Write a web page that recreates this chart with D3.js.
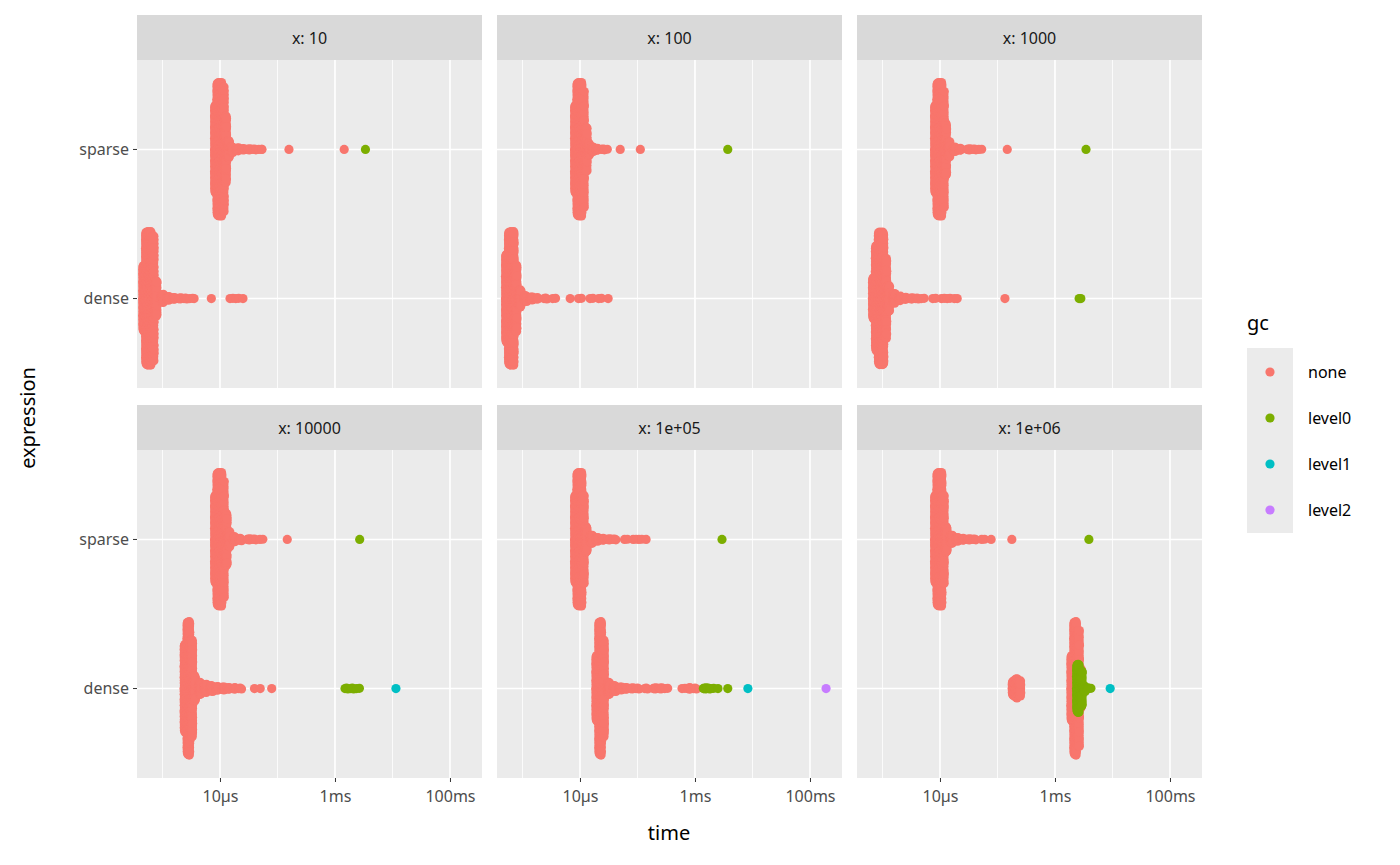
<!DOCTYPE html>
<html><head><meta charset="utf-8">
<script src="https://cdn.jsdelivr.net/npm/d3@7"></script>
<style>body{margin:0;background:#fff}text{font-family:"Noto Sans",sans-serif}</style>
</head><body><svg id="c" width="1400" height="865"></svg>
<script>
// bins: [log10 seconds, number of iterations, gc level index]
const panels = ['10','100','1000','10000','1e+05','1e+06'];
const exprs = ['sparse','dense'];
const gcLevels = ['none','level0','level1','level2'];
const gcColors = ['#F8766D','#7CAE00','#00BFC4','#C77CFF'];
const tickVals = [-5,-3,-1], tickLabels = ['10µs','1ms','100ms'];
const minorVals = [-6,-4,-2];

const sp10 = [[-5.07,200],[-5.03,300],[-4.99,300],[-4.95,280],[-4.91,150],[-4.86,40],[-4.8,15],[-4.7,8],[-4.6,5],[-4.5,4],[-4.4,3],[-4.3,2],[-4.27,1],[-3.8,1],[-2.84,1],[-2.47,1,1]];
const de10 = [[-6.32,150],[-6.27,300],[-6.22,300],[-6.17,280],[-6.12,80],[-6.0,20],[-5.9,10],[-5.8,6],[-5.7,4],[-5.6,3],[-5.5,2],[-5.45,1],[-5.15,1],[-4.8,2],[-4.7,2],[-4.6,1]];
const sp100 = [[-5.07,200],[-5.03,300],[-4.99,300],[-4.95,260],[-4.9,100],[-4.85,30],[-4.78,12],[-4.7,6],[-4.6,3],[-4.55,2],[-4.3,1],[-3.95,1],[-2.43,1,1]];
const de100 = [[-6.27,200],[-6.22,300],[-6.17,300],[-6.12,150],[-6.05,40],[-5.95,15],[-5.85,8],[-5.75,5],[-5.6,3],[-5.45,2],[-5.17,1],[-5.0,2],[-4.8,2],[-4.65,2],[-4.51,1]];
const sp1000 = [[-5.07,200],[-5.03,300],[-4.99,300],[-4.95,260],[-4.91,120],[-4.85,35],[-4.75,12],[-4.65,6],[-4.5,4],[-4.4,3],[-4.3,2],[-3.83,1],[-2.46,1,1]];
const de1000 = [[-6.15,80],[-6.1,200],[-6.05,250],[-6.0,250],[-5.95,150],[-5.9,50],[-5.8,20],[-5.7,10],[-5.6,6],[-5.5,4],[-5.4,3],[-5.3,2],[-5.1,2],[-4.95,2],[-4.85,2],[-4.75,1],[-4.7,1],[-3.87,1],[-2.58,1,1],[-2.55,1,1]];
const sp10000 = [[-5.07,200],[-5.03,300],[-4.99,300],[-4.95,260],[-4.9,120],[-4.85,35],[-4.75,14],[-4.65,7],[-4.5,4],[-4.4,3],[-4.28,2],[-3.83,1],[-2.57,1,1]];
const de10000 = [[-5.6,200],[-5.55,300],[-5.5,220],[-5.45,60],[-5.35,30],[-5.25,20],[-5.15,15],[-5.05,10],[-4.95,8],[-4.85,6],[-4.75,5],[-4.65,3],[-4.4,1],[-4.3,1],[-4.1,1],[-2.8,3,1],[-2.7,3,1],[-2.6,2,1],[-1.94,1,2]];
const sp1e5 = [[-5.07,200],[-5.03,300],[-4.99,300],[-4.95,200],[-4.9,60],[-4.8,20],[-4.7,10],[-4.6,6],[-4.5,4],[-4.4,3],[-4.2,2],[-4.05,2],[-3.95,2],[-3.85,1],[-2.53,1,1]];
const de1e5 = [[-4.7,150],[-4.65,300],[-4.6,220],[-4.5,30],[-4.4,15],[-4.3,8],[-4.2,6],[-4.1,4],[-4.0,3],[-3.85,3],[-3.7,4],[-3.6,4],[-3.5,2],[-3.2,2],[-3.1,5],[-3.0,3],[-2.83,4,1],[-2.77,3,1],[-2.7,2,1],[-2.6,1,1],[-2.43,1,1],[-2.08,1,2],[-0.72,1,3]];
const sp1e6 = [[-5.07,200],[-5.03,300],[-4.99,300],[-4.95,200],[-4.9,60],[-4.8,20],[-4.7,10],[-4.6,6],[-4.5,4],[-4.4,3],[-4.25,2],[-4.11,1],[-3.75,1],[-2.41,1,1]];
const de1e6 = [[-3.72,35],[-3.67,45],[-3.62,35],[-2.7,150],[-2.65,300],[-2.6,260],[-2.56,90],[-2.6,110,1],[-2.55,80,1],[-2.5,15,1],[-2.45,4,1],[-2.4,2,1],[-2.04,1,2]];
const series = {
  '10':[sp10,de10],'100':[sp100,de100],'1000':[sp1000,de1000],
  '10000':[sp10000,de10000],'1e+05':[sp1e5,de1e5],'1e+06':[sp1e6,de1e6]
};

const svg = d3.select('#c');
const pw = 345, ph = 328, stripH = 45;
const colX = [137,497,857], rowY = [15,405];
const x = d3.scaleLinear().domain([-6.443,-0.443]).range([0,pw]);
const y = d3.scalePoint().domain(exprs).range([0,ph]).padding(0.6*2/2.2*1.0);
// 2 levels with 0.6 expansion: unit = ph/2.2
const unit = ph/2.2;
const yc = d => unit*(0.6 + (d==='dense'?1:0)) ;
const vdc = k => { let v=0, d=0.5; while(k){ if(k&1) v+=d; k>>=1; d/=2; } return v; };

panels.forEach((p,i)=>{
  const cx = colX[i%3], ry = rowY[Math.floor(i/3)];
  const g = svg.append('g').attr('transform',`translate(${cx},${ry})`);
  g.append('rect').attr('width',pw).attr('height',stripH).attr('fill','#d9d9d9');
  g.append('text').attr('x',pw/2).attr('y',stripH/2+6).attr('text-anchor','middle')
    .attr('font-size',16).attr('fill','#1a1a1a').text('x: '+p);
  const pg = g.append('g').attr('transform',`translate(0,${stripH})`);
  pg.append('rect').attr('width',pw).attr('height',ph).attr('fill','#ebebeb');
  pg.selectAll('.mn').data(minorVals).join('line').attr('x1',x).attr('x2',x)
    .attr('y1',0).attr('y2',ph).attr('stroke','#fff').attr('stroke-width',0.8);
  pg.selectAll('.mj').data(tickVals).join('line').attr('x1',x).attr('x2',x)
    .attr('y1',0).attr('y2',ph).attr('stroke','#fff').attr('stroke-width',1.6);
  pg.selectAll('.hy').data(exprs).join('line').attr('x1',0).attr('x2',pw)
    .attr('y1',yc).attr('y2',yc).attr('stroke','#fff').attr('stroke-width',1.6);
  exprs.forEach((e,j)=>{
    const bins = series[p][j];
    const mx = d3.max(bins,b=>b[1]);
    const pts = [];
    bins.forEach(b=>{
      const n=b[1], w=0.45*n/mx;
      for(let k=0;k<n;k++){
        const t = n>1 ? b[0]-0.025+0.05*k/(n-1) : b[0];
        const off = n>1 ? (2*vdc(k+1)-1)*w : 0;
        pts.push({t, off, gc:b[2]||0});
      }
    });
    pg.append('g').selectAll('circle').data(pts).join('circle')
      .attr('cx',d=>x(d.t)).attr('cy',d=>yc(e)+d.off*unit).attr('r',4.6)
      .attr('fill',d=>gcColors[d.gc]);
  });
  if(i%3===0){
    exprs.forEach(e=>{
      pg.append('line').attr('x1',-4).attr('x2',0).attr('y1',yc(e)).attr('y2',yc(e)).attr('stroke','#333');
      pg.append('text').attr('x',-8).attr('y',yc(e)+5.5).attr('text-anchor','end')
        .attr('font-size',16).attr('fill','#4d4d4d').text(e);
    });
  }
  if(i>=3){
    const ax = pg.append('g').attr('transform',`translate(0,${ph})`)
      .call(d3.axisBottom(x).tickValues(tickVals).tickFormat((d,k)=>tickLabels[k]).tickSize(4));
    ax.select('.domain').remove();
    ax.selectAll('line').attr('stroke','#333');
    ax.selectAll('text').attr('font-size',16).attr('fill','#4d4d4d').attr('dy','1.05em')
      .style('font-family','"Noto Sans",sans-serif');
  }
});

svg.append('text').attr('x',669).attr('y',840).attr('text-anchor','middle').attr('font-size',20).attr('fill','#000').text('time');
svg.append('text').attr('transform','translate(35,418) rotate(-90)').attr('text-anchor','middle')
  .attr('font-size',20).attr('fill','#000').text('expression');

const lg = svg.append('g').attr('transform','translate(1247,322)');
lg.append('text').attr('x',0).attr('y',8).attr('font-size',20).text('gc');
lg.append('rect').attr('y',26).attr('width',46).attr('height',185).attr('fill','#ebebeb');
gcLevels.forEach((l,k)=>{
  lg.append('circle').attr('cx',23).attr('cy',50+46*k).attr('r',4.6).attr('fill',gcColors[k]);
  lg.append('text').attr('x',61).attr('y',56+46*k).attr('font-size',16).attr('fill','#000').text(l);
});
</script></body></html>
